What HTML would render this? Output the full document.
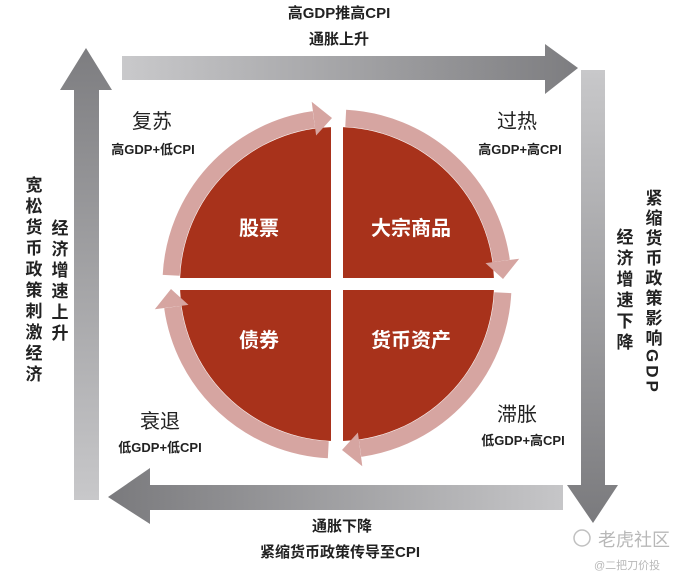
<!DOCTYPE html>
<html><head><meta charset="utf-8"><style>
html,body{margin:0;padding:0;background:#fff;}
svg{display:block;}
text{font-family:"Liberation Sans","Noto Sans CJK SC",sans-serif;}
</style></head><body>
<svg width="678" height="580" viewBox="0 0 678 580" xmlns="http://www.w3.org/2000/svg">
<defs>
<linearGradient id="gt" x1="0" x2="1" y1="0" y2="0"><stop offset="0" stop-color="#c9c9cb"/><stop offset="1" stop-color="#7d7d80"/></linearGradient>
<linearGradient id="gr" x1="0" x2="0" y1="0" y2="1"><stop offset="0" stop-color="#c8c8ca"/><stop offset="1" stop-color="#7a7a7d"/></linearGradient>
<linearGradient id="gb" x1="0" x2="1" y1="0" y2="0"><stop offset="0" stop-color="#7a7a7d"/><stop offset="1" stop-color="#c6c6c8"/></linearGradient>
<linearGradient id="gl" x1="0" x2="0" y1="0" y2="1"><stop offset="0" stop-color="#7d7d80"/><stop offset="1" stop-color="#c8c8ca"/></linearGradient>
</defs>
<rect width="678" height="580" fill="#fff"/>
<!-- top arrow -->
<polygon points="122,56 545,56 545,44 578,68 545,94 545,80 122,80" fill="url(#gt)"/>
<!-- right arrow -->
<polygon points="581,70 605,70 605,485 618,485 593,523 567,485 581,485" fill="url(#gr)"/>
<!-- bottom arrow -->
<polygon points="563,485 150,485 150,468 108,497 150,524 150,510 563,510" fill="url(#gb)"/>
<!-- left arrow -->
<polygon points="74,500 74,90 60,90 86,48 112,90 99,90 99,500" fill="url(#gl)"/>
<!-- circle -->
<circle cx="337" cy="284" r="157" fill="#a8321b"/>
<rect x="331" y="100" width="12" height="370" fill="#fff"/>
<rect x="150" y="278" width="380" height="12" fill="#fff"/>
<g fill="none" stroke="#d6a5a1" stroke-width="17">
<path d="M171.2,275.3 A166,166 0 0 1 313.9,119.6"/>
<path d="M345.7,118.2 A166,166 0 0 1 501.4,260.9"/>
<path d="M502.8,292.7 A166,166 0 0 1 360.1,448.4"/>
<path d="M328.3,449.8 A166,166 0 0 1 172.6,307.1"/>
</g>
<g fill="#d6a5a1">
<polygon points="316.1,135.5 311.7,101.8 332,118"/>
<polygon points="485.5,263.1 519.2,258.7 503,279"/>
<polygon points="357.9,432.5 362.3,466.2 342,450"/>
<polygon points="188.5,304.9 154.8,309.3 171,289"/>
</g>
<g fill="#fff" font-size="20" font-weight="bold" text-anchor="middle">
<text x="259" y="235">股票</text>
<text x="411" y="235">大宗商品</text>
<text x="259" y="347">债券</text>
<text x="411" y="347">货币资产</text>
</g>
<g fill="#222" text-anchor="middle">
<text x="152" y="128" font-size="20">复苏</text>
<text x="153" y="154" font-size="13" font-weight="bold">高GDP+低CPI</text>
<text x="517" y="128" font-size="20">过热</text>
<text x="520" y="154" font-size="13" font-weight="bold">高GDP+高CPI</text>
<text x="160" y="428" font-size="20">衰退</text>
<text x="160" y="452" font-size="13" font-weight="bold">低GDP+低CPI</text>
<text x="517" y="421" font-size="20">滞胀</text>
<text x="523" y="445" font-size="13" font-weight="bold">低GDP+高CPI</text>
<text x="339" y="18" font-size="15" font-weight="bold">高GDP推高CPI</text>
<text x="339" y="44" font-size="15" font-weight="bold">通胀上升</text>
<text x="342" y="531" font-size="15" font-weight="bold">通胀下降</text>
<text x="340" y="557" font-size="15" font-weight="bold">紧缩货币政策传导至CPI</text>
</g>
<g fill="#222" font-size="17" font-weight="bold" style="writing-mode:vertical-rl" text-anchor="start">
<text x="32" y="176" letter-spacing="4">宽松货币政策刺激经济</text>
<text x="58" y="219" letter-spacing="4">经济增速上升</text>
<text x="623" y="228" letter-spacing="4">经济增速下降</text>
<text x="652" y="189" letter-spacing="3">紧缩货币政策影响GDP</text>
</g>
<g fill="#b8b8b8" text-anchor="start">
<circle cx="582" cy="538" r="8" fill="none" stroke="#c0c0c0" stroke-width="1.5"/>
<text x="598" y="546" font-size="18">老虎社区</text>
<text x="594" y="569" font-size="11">@二把刀价投</text>
</g>
</svg>
</body></html>
